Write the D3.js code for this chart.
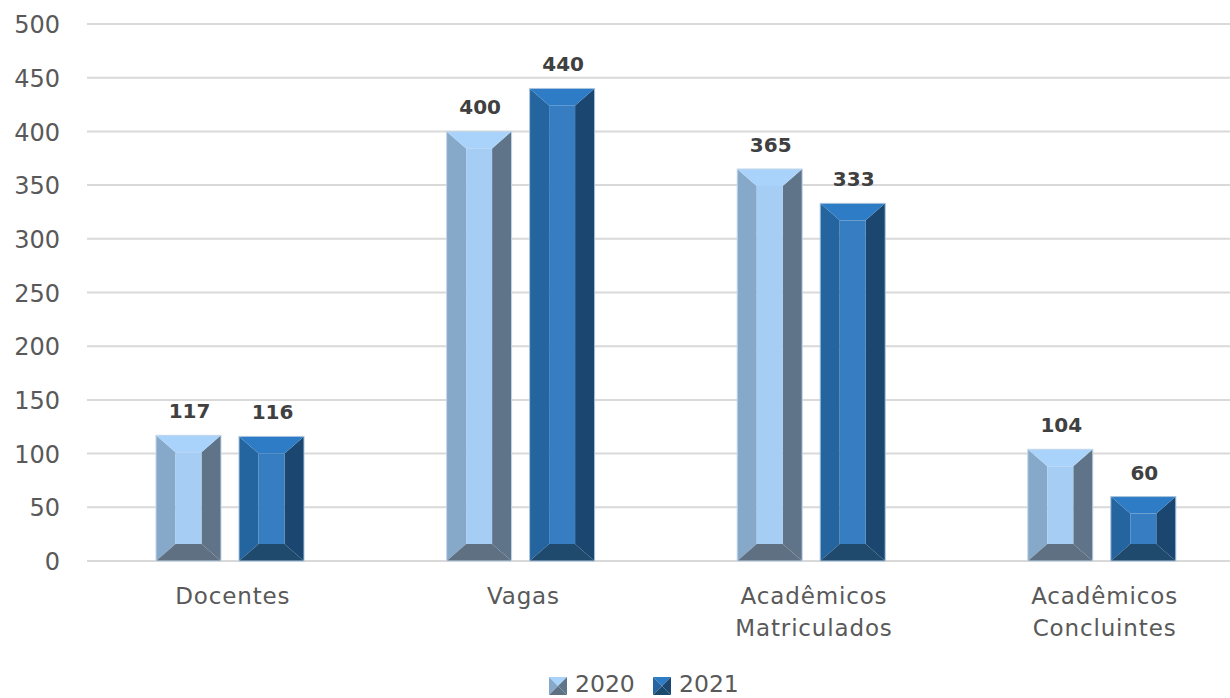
<!DOCTYPE html>
<html><head><meta charset="utf-8">
<script src="https://cdn.jsdelivr.net/npm/d3@7"></script>
<style>html,body{margin:0;padding:0;background:#fff}svg{display:block}text{font-family:"DejaVu Sans",sans-serif}</style>
</head><body><svg id="c" width="1230" height="698"><defs><filter id="soft" x="-20%" y="-20%" width="140%" height="140%"><feGaussianBlur stdDeviation="0.7"/></filter></defs></svg>
<script>
const categories = [["Docentes"],["Vagas"],["Acadêmicos","Matriculados"],["Acadêmicos","Concluintes"]];
const seriesNames = ["2020","2021"];
const values2020 = [117,400,365,104];
const values2021 = [116,440,333,60];
const yTicks = [0,50,100,150,200,250,300,350,400,450,500];
const palette = {
  "2020":{top:"#aad3fb",left:"#87a9c9",right:"#5f7489",bottom:"#5f7082",face:"#a6cdf3",edge:"#c3d6e8"},
  "2021":{top:"#2f7cc6",left:"#25659f",right:"#1b4670",bottom:"#1f4a6e",face:"#377dc1",edge:"#a9c4dd"}
};
const svg = d3.select("#c");
const y = d3.scaleLinear().domain([0,500]).range([561,24]);
const x0 = d3.scaleBand().domain(d3.range(categories.length)).range([86,1248.4]);
const x1 = d3.scaleBand().domain(seriesNames).range([70,218]).paddingInner(18/83);
const yAxis = d3.axisLeft(y).tickValues(yTicks).tickSize(0).tickPadding(0);
const gy = svg.append("g").attr("transform","translate(60,0)").call(yAxis);
gy.select(".domain").remove();
gy.selectAll("text").attr("font-size",24).attr("fill","#595959").attr("dy","0.36em").style("font-family",'"DejaVu Sans",sans-serif');
svg.append("g").selectAll("line").data(yTicks).join("line")
  .attr("x1",87).attr("x2",1230).attr("y1",d=>y(d)).attr("y2",d=>y(d))
  .attr("stroke","#d9d9d9").attr("stroke-width",2);
function bevel(g,x,w,top,bot,c,bx,by){
  const poly=(pts,fill)=>g.append("polygon").attr("points",pts.map(p=>p.join(",")).join(" ")).attr("fill",fill);
  const r=x+w,ix=x+bx,ir=r-bx,it=top+by,ib=bot-by;
  poly([[x,top],[ix,it],[ix,ib],[x,bot]],c.left);
  poly([[r,top],[ir,it],[ir,ib],[r,bot]],c.right);
  poly([[x,bot],[ix,ib],[ir,ib],[r,bot]],c.bottom);
  poly([[x,top],[r,top],[ir,it],[ix,it]],c.top);
  g.append("rect").attr("x",ix).attr("y",it).attr("width",ir-ix).attr("height",Math.max(0,ib-it)).attr("fill",c.face);
  g.append("rect").attr("x",x).attr("y",top).attr("width",w).attr("height",bot-top).attr("fill","none").attr("stroke",c.edge).attr("stroke-width",1);
}
const seriesValues = {"2020":values2020,"2021":values2021};
seriesNames.forEach(s=>{
  seriesValues[s].forEach((v,i)=>{
    const g=svg.append("g");
    const xp=x0(i)+x1(s), w=x1.bandwidth();
    bevel(g,xp,w,y(v),y(0),palette[s],19.5,17);
    g.append("text").attr("x",xp+w/2+1).attr("y",y(v)-17).attr("text-anchor","middle")
      .attr("font-size",20).attr("font-weight","bold").attr("fill","#404040").text(v);
  });
});
categories.forEach((lines,i)=>{
  const cx=x0(i)+x0.bandwidth()/2+1.5;
  lines.forEach((t,j)=>svg.append("text").attr("x",cx).attr("y",604+j*32).attr("text-anchor","middle")
    .attr("font-size",23).attr("letter-spacing",0.85).attr("fill","#595959").text(t));
});
const legendX=[549,653];
seriesNames.forEach((s,i)=>{
  const g=svg.append("g");
  const c=palette[s], lx=legendX[i], ly=677, sz=18;
  const sw=g.append("g").attr("filter","url(#soft)");
  const poly=(pts,f)=>sw.append("polygon").attr("points",pts.map(p=>p.join(",")).join(" ")).attr("fill",f);
  poly([[lx,ly],[lx+sz,ly],[lx+sz/2,ly+sz/2]],c.top);
  poly([[lx,ly],[lx+sz/2,ly+sz/2],[lx,ly+sz]],c.left);
  poly([[lx+sz,ly],[lx+sz/2,ly+sz/2],[lx+sz,ly+sz]],c.right);
  poly([[lx,ly+sz],[lx+sz/2,ly+sz/2],[lx+sz,ly+sz]],c.bottom);
  g.append("text").attr("x",lx+26).attr("y",692).attr("font-size",23.5).attr("fill","#595959").text(s);
});
</script></body></html>
